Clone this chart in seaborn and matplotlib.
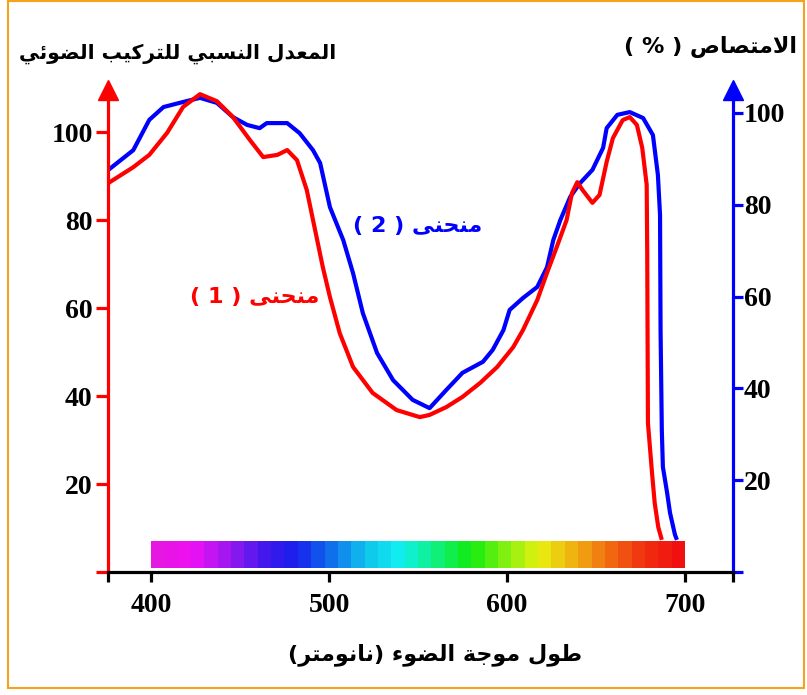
import numpy as np
import pandas as pd
import matplotlib
matplotlib.use("Agg")
import matplotlib.pyplot as plt
from matplotlib.colors import LinearSegmentedColormap
from matplotlib.patches import Rectangle
import seaborn as sns

# ---- data ----
wl_red = [376, 390, 399, 409, 418, 427.5, 437, 446, 455.5, 463, 471, 476.5, 482, 487.5,
          491, 496.5, 500.5, 506, 513.5, 524.5, 538, 551, 556.5, 566, 575, 585, 594.5,
          603.5, 609, 617, 622.5, 628, 633.5, 636.5, 639.5, 642.5, 648, 652, 656, 659.5,
          665, 669, 673, 676, 678.5, 678.8, 679.2, 681.5, 683, 685, 687]
rate_red = [88.4, 92.0, 94.8, 99.8, 105.7, 108.6, 107.0, 103.4, 98.2, 94.3, 94.8, 95.9,
            93.6, 86.8, 80.0, 69.3, 62.5, 54.3, 46.6, 40.7, 36.8, 35.2, 35.7, 37.5, 39.8,
            43.0, 46.6, 51.1, 55.0, 61.8, 68.0, 73.9, 80.0, 86.1, 88.6, 86.8, 83.9, 85.7,
            93.2, 98.6, 102.7, 103.4, 101.6, 96.4, 88.0, 72.5, 33.9, 22.5, 15.7, 10.2, 7.3]

wl_blue = [376, 390, 399, 407, 418, 427.5, 437, 446, 454, 461, 465, 476.5, 483.5, 491,
           495, 500.5, 508, 513.5, 519, 527, 536, 547, 556.5, 566, 575, 586.5, 592, 598,
           601.5, 609, 617, 622.5, 626, 630, 635.5, 641, 648, 654, 656, 662, 669, 676.5,
           682, 684.8, 686, 686.3, 687, 687.6, 690, 691.6, 694.4, 695.5]
absorb_blue = [87.6, 91.9, 98.5, 101.3, 102.4, 103.3, 102.2, 99.1, 97.4, 96.7, 97.8, 97.8,
               95.6, 91.9, 89.1, 79.5, 72.3, 65.1, 56.4, 47.7, 41.8, 37.5, 35.7, 39.7,
               43.4, 45.8, 48.4, 52.7, 57.1, 59.7, 62.1, 66.4, 72.3, 76.7, 81.7, 84.7,
               87.6, 92.4, 96.7, 99.6, 100.2, 98.9, 95.2, 86.5, 77.8, 52.7, 30.9, 22.9,
               17.2, 12.9, 8.1, 7.0]

y_ticks = [0, 20, 40, 60, 80, 100]
y_ticklabels = ["", "20", "40", "60", "80", "100"]
x_ticks = [376, 400, 500, 600, 700, 727]
x_ticklabels = ["", "400", "500", "600", "700", ""]

spectrum_stops = ["#e418e0", "#f010f4", "#a018f0", "#4818ec", "#1820ec", "#1070ec",
                  "#10c4ec", "#10f0f0", "#10f080", "#10ec10", "#80f010", "#e8f010",
                  "#f0b010", "#f06c10", "#f03010", "#f01010"]

title_left = "المعدل النسبي للتركيب الضوئي"
title_right = "الامتصاص ( % )"
x_title = "طول موجة الضوء (نانومتر)"
label_1 = "منحنى ( 1 )"
label_2 = "منحنى ( 2 )"

# ---- minimal Arabic shaping (presentation forms + visual order) ----
FORMS = {
    "\u0627": ("\uFE8D", "\uFE8E"), "\u062F": ("\uFEA9", "\uFEAA"),
    "\u0631": ("\uFEAD", "\uFEAE"), "\u0648": ("\uFEED", "\uFEEE"),
    "\u0629": ("\uFE93", "\uFE94"), "\u0649": ("\uFEEF", "\uFEF0"),
    "\uFEFB": ("\uFEFB", "\uFEFC"), "\u0621": ("\uFE80",),
    "\u0628": ("\uFE8F", "\uFE90", "\uFE91", "\uFE92"),
    "\u062A": ("\uFE95", "\uFE96", "\uFE97", "\uFE98"),
    "\u062C": ("\uFE9D", "\uFE9E", "\uFE9F", "\uFEA0"),
    "\u062D": ("\uFEA1", "\uFEA2", "\uFEA3", "\uFEA4"),
    "\u0633": ("\uFEB1", "\uFEB2", "\uFEB3", "\uFEB4"),
    "\u0635": ("\uFEB9", "\uFEBA", "\uFEBB", "\uFEBC"),
    "\u0636": ("\uFEBD", "\uFEBE", "\uFEBF", "\uFEC0"),
    "\u0637": ("\uFEC1", "\uFEC2", "\uFEC3", "\uFEC4"),
    "\u0639": ("\uFEC9", "\uFECA", "\uFECB", "\uFECC"),
    "\u0643": ("\uFED9", "\uFEDA", "\uFEDB", "\uFEDC"),
    "\u0644": ("\uFEDD", "\uFEDE", "\uFEDF", "\uFEE0"),
    "\u0645": ("\uFEE1", "\uFEE2", "\uFEE3", "\uFEE4"),
    "\u0646": ("\uFEE5", "\uFEE6", "\uFEE7", "\uFEE8"),
    "\u064A": ("\uFEF1", "\uFEF2", "\uFEF3", "\uFEF4"),
    "\u0626": ("\uFE89", "\uFE8A", "\uFE8B", "\uFE8C"),
}
MIRROR = {"(": ")", ")": "("}


def ar(text):
    text = text.replace("\u0644\u0627", "\uFEFB")
    out = []
    for i, c in enumerate(text):
        if c not in FORMS:
            out.append(MIRROR.get(c, c))
            continue
        f = FORMS[c]
        prev = text[i - 1] if i > 0 else ""
        nxt = text[i + 1] if i + 1 < len(text) else ""
        jp = len(f) > 1 and prev in FORMS and len(FORMS[prev]) == 4
        jn = len(f) == 4 and nxt in FORMS and len(FORMS[nxt]) > 1
        if jp and jn:
            out.append(f[3])
        elif jp:
            out.append(f[1])
        elif jn:
            out.append(f[2])
        else:
            out.append(f[0])
    return "".join(out[::-1])


sns.set_style("white")
plt.rcParams["font.family"] = ["DejaVu Sans"]

W, H = 807, 695
fig = plt.figure(figsize=(W / 100, H / 100), dpi=100)


def fx(x):
    return x / W


def fy(y):
    return 1 - y / H


ax = fig.add_axes([fx(108), fy(572), fx(733) - fx(108), fy(90) - fy(572)])
ax2 = ax.twinx()

df_red = pd.DataFrame({"wl": wl_red, "val": rate_red})
df_blue = pd.DataFrame({"wl": wl_blue, "val": absorb_blue})

sns.lineplot(data=df_blue, x="wl", y="val", ax=ax2, color="#0000ff", lw=3.0,
             sort=False, estimator=None)
sns.lineplot(data=df_red, x="wl", y="val", ax=ax, color="#ff0000", lw=3.0,
             sort=False, estimator=None)
for line in ax.lines + ax2.lines:
    line.set_clip_on(False)
    line.set_solid_capstyle("butt")

ax.set_zorder(ax2.get_zorder() + 1)
ax.patch.set_visible(False)

# spectrum bar
cmap = LinearSegmentedColormap.from_list("spec", spectrum_stops, N=40)
grad = np.linspace(0, 1, 400).reshape(1, -1)
ax.imshow(grad, cmap=cmap, aspect="auto", extent=[400, 700, 0.9, 7.0],
          interpolation="nearest", zorder=1)
ax.set_xlim(375.8, 727)
ax.set_ylim(0, 482 / 4.4)
ax2.set_ylim(0, 482 / 4.59)

for a in (ax, ax2):
    for s in a.spines.values():
        s.set_visible(False)
ax.spines["left"].set_visible(True)
ax.spines["left"].set_color("#ff0000")
ax.spines["left"].set_linewidth(2.3)
ax.spines["bottom"].set_visible(True)
ax.spines["bottom"].set_color("black")
ax.spines["bottom"].set_linewidth(2.3)
ax2.spines["right"].set_visible(True)
ax2.spines["right"].set_color("#0000ff")
ax2.spines["right"].set_linewidth(2.3)

tick_font = dict(family="Liberation Serif", weight="bold", size=20)

ax.set_yticks(y_ticks)
ax.set_yticklabels(y_ticklabels, **tick_font)
ax.tick_params(axis="y", left=True, colors="#ff0000", labelcolor="black",
               length=9, width=2.3, pad=2, direction="out")
ax2.set_yticks(y_ticks)
ax2.set_yticklabels(y_ticklabels, **tick_font)
ax2.tick_params(axis="y", right=True, colors="#0000ff", labelcolor="black",
                length=7, width=2.3, pad=1, direction="out")
ax.set_xticks(x_ticks)
ax.set_xticklabels(x_ticklabels, **tick_font)
ax.tick_params(axis="x", bottom=True, colors="black", length=7, width=2.3,
               pad=8, direction="out")
ax.set_xlabel("")
ax.set_ylabel("")
ax2.set_ylabel("")

# arrow heads on top of the vertical axes
ax.plot([0], [1], marker="^", ms=15, color="#ff0000", transform=ax.transAxes,
        clip_on=False, zorder=5)
ax2.plot([1], [1], marker="^", ms=15, color="#0000ff", transform=ax2.transAxes,
         clip_on=False, zorder=5)

ar_font = dict(family=["DejaVu Sans"], weight="bold")
fig.text(fx(178), fy(54), ar(title_left), ha="center", va="center", size=14.6,
         color="black", **ar_font)
fig.text(fx(711), fy(47), ar(title_right), ha="center", va="center", size=16,
         color="black", **ar_font)
fig.text(fx(435), fy(655), ar(x_title), ha="center", va="center", size=16,
         color="black", **ar_font)
fig.text(fx(418), fy(226), ar(label_2), ha="center", va="center", size=16,
         color="#0000ff", **ar_font)
fig.text(fx(255), fy(297), ar(label_1), ha="center", va="center", size=16,
         color="#ff0000", **ar_font)

# orange frame
fig.patches.append(Rectangle((fx(8), fy(688)), fx(804) - fx(8), fy(1) - fy(688),
                             transform=fig.transFigure, fill=False,
                             edgecolor="#f7a21b", lw=1.5))

fig.savefig("out.png", dpi=100)
